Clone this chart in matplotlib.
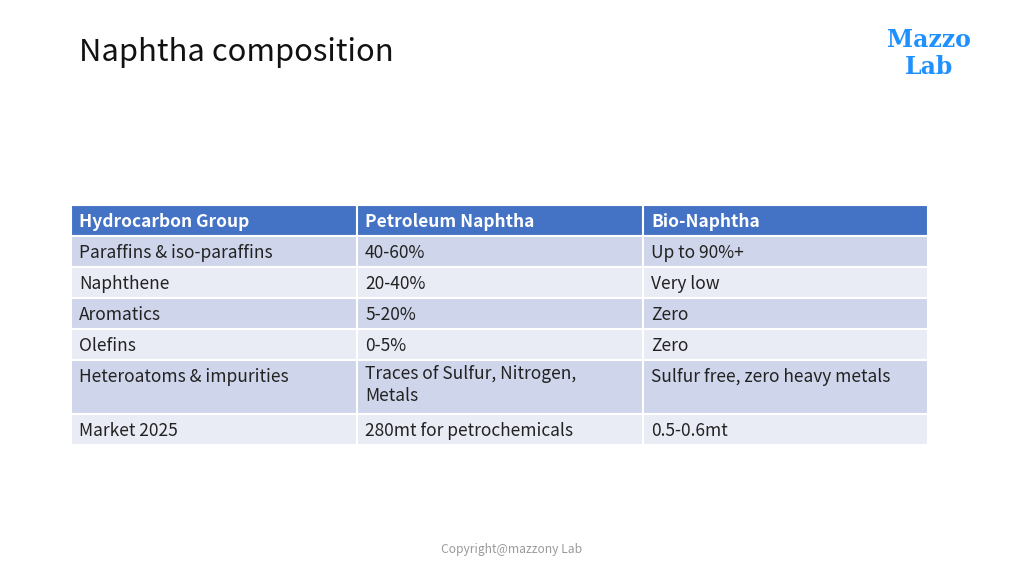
import matplotlib
matplotlib.use("Agg")
import matplotlib.pyplot as plt
from matplotlib.patches import Rectangle

plt.rcParams['font.family'] = ['Noto Sans CJK SC', 'DejaVu Sans']

# Table content
header = ["Hydrocarbon Group", "Petroleum Naphtha", "Bio-Naphtha"]
groups = ["Paraffins & iso-paraffins", "Naphthene", "Aromatics", "Olefins",
          "Heteroatoms & impurities", "Market 2025"]
petroleum = ["40-60%", "20-40%", "5-20%", "0-5%",
             "Traces of Sulfur, Nitrogen,\nMetals", "280mt for petrochemicals"]
bio = ["Up to 90%+", "Very low", "Zero", "Zero",
       "Sulfur free, zero heavy metals", "0.5-0.6mt"]

title = "Naphtha composition"
footer = "Copyright@mazzony Lab"

# Layout (pixels)
col_edges = [71, 357, 643, 928]
header_top, header_h = 205, 31
row_heights = [31, 31, 31, 31, 54, 31]

header_color = "#4472C4"
band_colors = ["#CFD5EA", "#E9EBF5"]

fig = plt.figure(figsize=(10.24, 5.76), dpi=100)
ax = fig.add_axes([0, 0, 1, 1])
ax.set_xlim(0, 1024)
ax.set_ylim(576, 0)
ax.axis('off')

ax.text(79, 52, title, fontsize=22.3, color="#111111", va='center', ha='left')

# logo
ax.text(929, 40, "Mazzo", fontsize=17, fontweight='bold', color="#1E90FF",
        family='DejaVu Serif', ha='center', va='center')
ax.text(929, 67, "Lab", fontsize=17, fontweight='bold', color="#1E90FF",
        family='DejaVu Serif', ha='center', va='center')

# header row
for j, txt in enumerate(header):
    x0, x1 = col_edges[j], col_edges[j + 1]
    ax.add_patch(Rectangle((x0, header_top), x1 - x0, header_h,
                           facecolor=header_color, edgecolor='white', lw=1.5))
    ax.text(x0 + 8, header_top + header_h / 2 + 1.5, txt, fontsize=12.5,
            fontweight='bold', color='white', va='center', ha='left')

# body rows
y = header_top + header_h
rows = list(zip(groups, petroleum, bio))
for i, row in enumerate(rows):
    h = row_heights[i]
    for j, txt in enumerate(row):
        x0, x1 = col_edges[j], col_edges[j + 1]
        ax.add_patch(Rectangle((x0, y), x1 - x0, h,
                               facecolor=band_colors[i % 2], edgecolor='white', lw=1.5))
        if '\n' in txt:
            ax.text(x0 + 8, y + 5, txt, fontsize=12.5, color="#222222",
                    va='top', ha='left', linespacing=1.3)
        else:
            ax.text(x0 + 8, y + 17, txt, fontsize=12.5, color="#222222",
                    va='center', ha='left')
    y += h

ax.text(512, 549, footer, fontsize=8.7, color="#9A9A9A", ha='center', va='center')

fig.savefig("out.png", dpi=100)
